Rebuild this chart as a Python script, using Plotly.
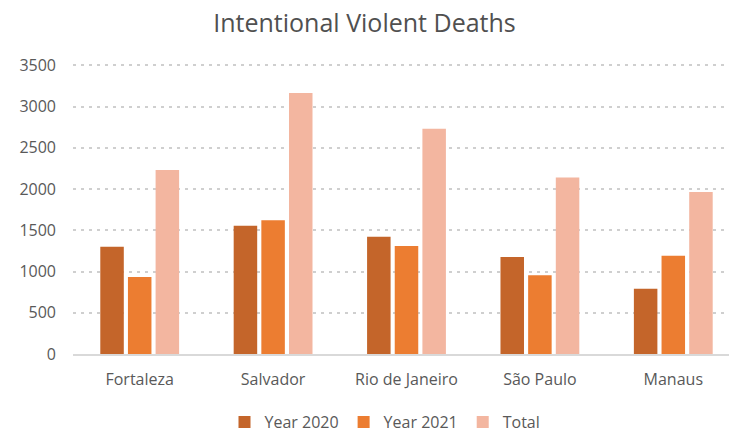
import plotly.graph_objects as go

cities = ["Fortaleza", "Salvador", "Rio de Janeiro", "São Paulo", "Manaus"]
year_2020 = [1300, 1555, 1420, 1175, 790]
year_2021 = [935, 1620, 1310, 955, 1190]
total = [2230, 3165, 2730, 2140, 1965]
y_ticks = [0, 500, 1000, 1500, 2000, 2500, 3000, 3500]

series = [
    ("Year 2020", year_2020, "#C4652A"),
    ("Year 2021", year_2021, "#EC7D31"),
    ("Total", total, "#F3B6A0"),
]

fig = go.Figure()
for name, vals, color in series:
    fig.add_trace(go.Bar(x=cities, y=vals, name=name, marker=dict(color=color, line=dict(width=0))))

font_color = "#595959"
fig.update_layout(
    width=729, height=432,
    margin=dict(l=73, r=0, t=62, b=78, autoexpand=False),
    paper_bgcolor="white", plot_bgcolor="white",
    font=dict(family="Open Sans", size=16, color=font_color),
    title=dict(text="Intentional Violent Deaths", x=0.5, xref="container", xanchor="center",
               y=1 - 23 / 432, yref="container", yanchor="middle",
               font=dict(family="Open Sans", size=25, color="#505050")),
    barmode="group", bargap=0.378, bargroupgap=0.15,
    legend=dict(orientation="h", x=(385 - 73) / 656, xanchor="center",
                yref="container", y=1 - 422 / 432, yanchor="middle",
                font=dict(size=16, color=font_color), itemwidth=30, traceorder="normal"),
    showlegend=True,
)
fig.update_xaxes(range=[-0.5, 4.5 - 11 / 133.5], showline=True, linecolor="#D9D9D9", linewidth=2,
                 showgrid=False, ticks="", ticklabelstandoff=10, tickfont=dict(size=16, color=font_color))
fig.update_yaxes(range=[0, 3540], tickvals=y_ticks, showgrid=True, gridcolor="#CFCFCF", gridwidth=2,
                 griddash="3px,5px", zeroline=False, showline=False, ticks="", ticklabelstandoff=16,
                 tickfont=dict(size=16, color=font_color))

fig.write_html("out.html")
